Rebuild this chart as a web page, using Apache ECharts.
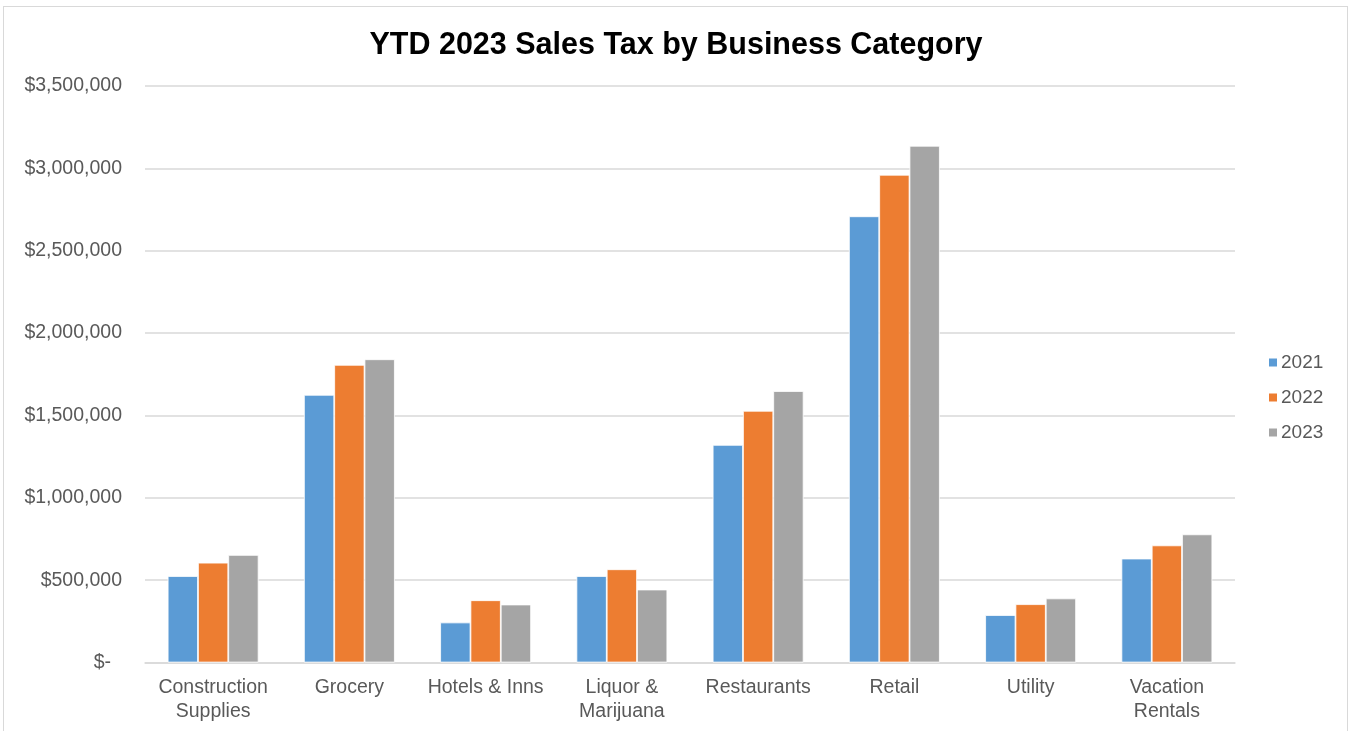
<!DOCTYPE html>
<html>
<head>
<meta charset="utf-8">
<script src="https://cdn.jsdelivr.net/npm/echarts@6/dist/echarts.min.js"></script>
<style>
html,body{margin:0;padding:0;background:#fff;}
#chart{width:1352px;height:731px;position:relative;}
#frame{position:absolute;left:3px;top:6px;width:1345px;height:740px;border:1.5px solid #d9d9d9;box-sizing:border-box;pointer-events:none;}
</style>
</head>
<body>
<div style="position:relative;width:1352px;height:731px;overflow:hidden;">
<div id="chart"></div>
<div id="frame"></div>
</div>
<script>
const categories = ['Construction\nSupplies', 'Grocery', 'Hotels & Inns', 'Liquor &\nMarijuana', 'Restaurants', 'Retail', 'Utility', 'Vacation\nRentals'];
const seriesNames = ['2021', '2022', '2023'];
const values2021 = [525000, 1625000, 243000, 525000, 1321000, 2709000, 288000, 631000];
const values2022 = [606000, 1807000, 378000, 566000, 1528000, 2961000, 354000, 711000];
const values2023 = [653000, 1841000, 352000, 443000, 1648000, 3137000, 389000, 778000];
const colors = ['#5B9BD5', '#ED7D31', '#A5A5A5'];
const yTicks = { min: 0, max: 3500000, interval: 500000 };

const font = '"Liberation Sans", Arial, sans-serif';
const chart = echarts.init(document.getElementById('chart'));
const allValues = [values2021, values2022, values2023];

chart.setOption({
  animation: false,
  color: colors,
  textStyle: { fontFamily: font },
  title: {
    text: 'YTD 2023 Sales Tax by Business Category',
    left: 'center',
    top: 25,
    textStyle: { fontFamily: font, fontSize: 30.5, fontWeight: 'bold', color: '#000' }
  },
  legend: {
    orient: 'vertical',
    left: 1262,
    top: 348,
    itemWidth: 10,
    itemHeight: 10,
    itemGap: 16,
    icon: 'rect',
    textStyle: { fontFamily: font, fontSize: 19, color: '#595959', padding: [0, 0, 0, -2] },
    data: seriesNames
  },
  grid: { left: 145, right: 117, top: 86, bottom: 68.5, containLabel: false },
  xAxis: {
    type: 'category',
    data: categories,
    axisLine: { lineStyle: { color: '#d9d9d9', width: 1.5 } },
    axisTick: { show: false },
    axisLabel: { fontFamily: font, fontSize: 19.5, color: '#595959', margin: 13.5, lineHeight: 24, interval: 0 }
  },
  yAxis: {
    type: 'value',
    min: yTicks.min,
    max: yTicks.max,
    interval: yTicks.interval,
    axisLine: { show: false },
    axisTick: { show: false },
    splitLine: { lineStyle: { color: '#d9d9d9', width: 1.5 } },
    axisLabel: {
      fontFamily: font, fontSize: 19.5, color: '#595959', margin: 23,
      formatter: function (v) {
        if (v === 0) return '{z|$-}';
        return '$' + v.toLocaleString('en-US');
      },
      rich: { z: { fontFamily: font, fontSize: 19.5, color: '#595959', padding: [0, 11, 0, 0] } }
    }
  },
  series: seriesNames.map((name, i) => ({
    name: name,
    type: 'bar',
    data: allValues[i],
    barGap: '0%',
    barCategoryGap: '33.3%',
    itemStyle: { color: colors[i], borderColor: '#ffffff', borderWidth: 0.8 }
  }))
});
</script>
</body>
</html>
